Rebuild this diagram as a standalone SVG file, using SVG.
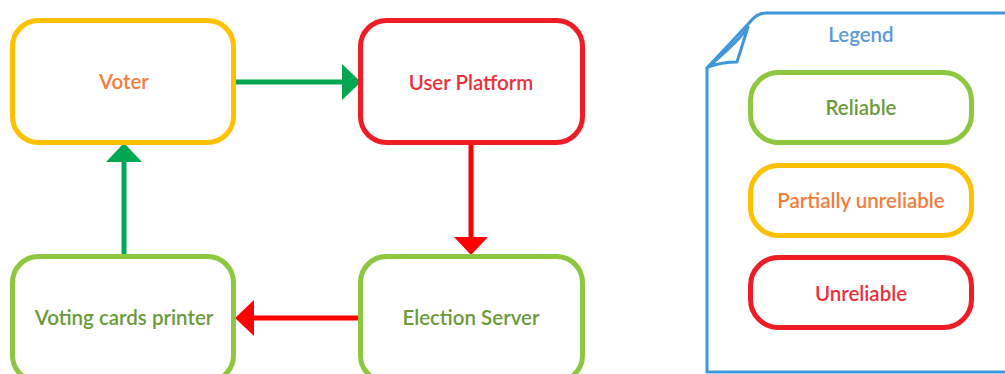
<svg xmlns="http://www.w3.org/2000/svg" width="1005" height="374" viewBox="0 0 1005 374">
  <style>
    .box { fill: #ffffff; stroke-width: 5; }
    .ok { stroke: #8DC63F; }
    .part { stroke: #FFC000; }
    .bad { stroke: #EE1C25; }
    .lbl { font-family: Lato, "Open Sans", sans-serif; font-size: 20.5px; font-weight: 600; text-anchor: middle; dominant-baseline: central; }
    .t-ok { fill: #6B9A3A; }
    .t-part { fill: #F47C3C; }
    .t-bad { fill: #E8303A; }
    .flow-g { stroke: #00A651; stroke-width: 5; fill: none; }
    .flow-r { stroke: #FF0000; stroke-width: 5; fill: none; }
    .page { fill: #ffffff; stroke: #3D97D8; stroke-width: 3; stroke-linejoin: round; }
  </style>

  <!-- connectors -->
  <g id="connectors">
    <line class="flow-g" x1="236" y1="82" x2="344" y2="82"/>
    <polygon fill="#00A651" points="342,64 361,82 342,100"/>
    <line class="flow-g" x1="124" y1="254" x2="124" y2="160"/>
    <polygon fill="#00A651" points="106,162 124,143 142,162"/>
    <line class="flow-r" x1="471" y1="145" x2="471" y2="240"/>
    <polygon fill="#FF0000" points="454,237 471,255 488,237"/>
    <line class="flow-r" x1="358" y1="318" x2="252" y2="318"/>
    <polygon fill="#FF0000" points="254,300 235,318 254,336"/>
  </g>

  <g id="voter">
    <rect class="box part" x="12.5" y="20.5" width="221" height="122" rx="26"/>
    <text class="lbl t-part" x="124" y="81">Voter</text>
  </g>
  <g id="user-platform">
    <rect class="box bad" x="360.5" y="20.5" width="222" height="122" rx="26"/>
    <text class="lbl t-bad" x="471" y="82">User Platform</text>
  </g>
  <g id="voting-cards-printer">
    <rect class="box ok" x="12.5" y="256.5" width="221" height="125" rx="26"/>
    <text class="lbl t-ok" x="124" y="317">Voting cards printer</text>
  </g>
  <g id="election-server">
    <rect class="box ok" x="360.5" y="256.5" width="222" height="125" rx="26"/>
    <text class="lbl t-ok" x="471" y="317">Election Server</text>
  </g>

  <!-- legend sheet with a curled corner -->
  <g id="legend">
    <path class="page" d="M707,372 L707,68 L750,22 Q757,13 766,13 L1010,13 L1010,372 Z"/>
    <path class="page" d="M708,67 Q722,62 737,62 L748,27 Q740,40 708,67 Z" fill="none"/>
    <text class="lbl" x="861" y="34" fill="#5B9BD5" font-size="20.5" font-weight="400">Legend</text>
    <g id="legend-reliable">
      <rect class="box ok" x="750.5" y="72.5" width="221" height="70" rx="28"/>
      <text class="lbl t-ok" x="861" y="107">Reliable</text>
    </g>
    <g id="legend-partial">
      <rect class="box part" x="750.5" y="165.5" width="221" height="70" rx="28"/>
      <text class="lbl t-part" x="861" y="200">Partially unreliable</text>
    </g>
    <g id="legend-unreliable">
      <rect class="box bad" x="750.5" y="257.5" width="221" height="70" rx="28"/>
      <text class="lbl t-bad" x="861" y="293">Unreliable</text>
    </g>
  </g>
</svg>
